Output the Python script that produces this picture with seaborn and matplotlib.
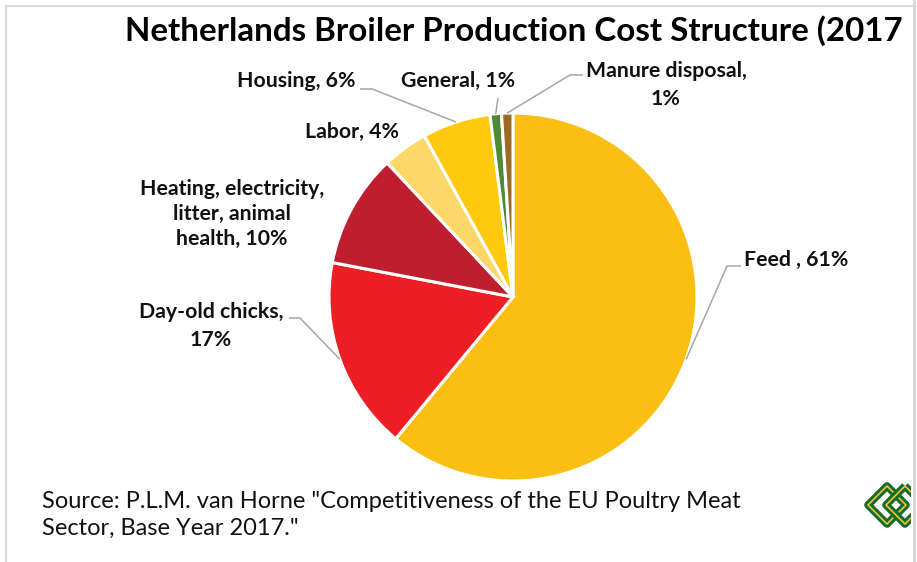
import numpy as np
import matplotlib
matplotlib.use("Agg")
import matplotlib.pyplot as plt
import seaborn as sns
from matplotlib.lines import Line2D
from matplotlib.patches import Polygon

# chart data
categories = ["Feed", "Day-old chicks", "Heating, electricity, litter, animal health",
              "Labor", "Housing", "General", "Manure disposal"]
shares = [61, 17, 10, 4, 6, 1, 1]
labels = ["Feed , 61%", "Day-old chicks,\n17%", "Heating, electricity,\nlitter, animal\nhealth, 10%",
          "Labor, 4%", "Housing, 6%", "General, 1%", "Manure disposal,\n1%"]
colors = ["#FBBF14", "#ED1F24", "#BE1E2D", "#FDD767", "#FFC90D", "#4F8A36", "#9C6A25"]
# the title runs off the chart area in the original, only this part shows
title = "Netherlands Broiler Production Cost Structure (2017"
source = "Source: P.L.M. van Horne \"Competitiveness of the EU Poultry Meat\nSector, Base Year 2017.\""

sns.set_theme(style="white")
plt.rcParams["font.family"] = ["Lato", "DejaVu Sans"]

W, H = 917, 562
fig = plt.figure(figsize=(W / 100, H / 100), dpi=100)
clip_w = 911
ax = fig.add_axes([0, 0, clip_w / W, 1])


def ty(y):
    # pixel y from top -> data y
    return H - y


cx, cy, r = 513, ty(297), 184
wedges, _ = ax.pie(shares, colors=colors, startangle=90, counterclock=False,
                   center=(cx, cy), radius=r,
                   wedgeprops=dict(edgecolor="white", linewidth=2.2))
ax.set_xlim(0, clip_w)
ax.set_ylim(0, H)
ax.set_aspect("auto")
ax.axis("off")

# label layout: (x, y from top, ha, leader elbow points or None)
layout = {
    "Feed": (744, 260, "left", [(741, 266), (727, 266)]),
    "Day-old chicks": (211, 326, "center", [(289, 318), (300, 318)]),
    "Heating, electricity, litter, animal health": (232, 214, "center", None),
    "Labor": (352, 132, "center", None),
    "Housing": (296, 81, "center", [(360, 89), (372, 89)]),
    "General": (458, 81, "center", [(498, 98)]),
    "Manure disposal": (666, 85, "center", [(583, 75), (570, 75)]),
}

for w, cat, lab in zip(wedges, categories, labels):
    x, y, ha, elbow = layout[cat]
    ls = 1.3 if lab.count("\n") > 1 else 1.45
    ax.text(x, ty(y), lab, ha=ha, va="center", fontsize=15.3, fontweight="bold",
            color="#111111", linespacing=ls, multialignment="center")
    if elbow:
        mid = np.deg2rad((w.theta1 + w.theta2) / 2)
        ax_pt = (cx + r * np.cos(mid), cy + r * np.sin(mid))
        xs = [p[0] for p in elbow] + [ax_pt[0]]
        ys = [ty(p[1]) for p in elbow] + [ax_pt[1]]
        ax.plot(xs, ys, color="#A6A6A6", lw=1.1, solid_capstyle="butt")

ax.text(125, ty(31), title, ha="left", va="center", fontsize=23.9, fontweight="bold",
        color="black")
ax.text(42, ty(515), source, ha="left", va="center", fontsize=17, color="#111111",
        linespacing=1.3)

# small knot logo at bottom right
for ox in (887, 905):
    d = 19
    pts = [(ox, ty(505 - d)), (ox + d, ty(505)), (ox, ty(505 + d)), (ox - d, ty(505))]
    ax.add_patch(Polygon(pts, closed=True, fill=False, ec="#146B2E", lw=5.5,
                         joinstyle="round", clip_on=True))
    ax.add_patch(Polygon(pts, closed=True, fill=False, ec="#F2C531", lw=1.2,
                         joinstyle="round", clip_on=True))

# chart area frame
fc = "#DADADA"
fig.add_artist(Line2D([6 / W, 6 / W], [0, 1 - 6 / H], color=fc, lw=1.6))
fig.add_artist(Line2D([6 / W, 1], [1 - 6 / H, 1 - 6 / H], color=fc, lw=1.6))
fig.add_artist(Line2D([914 / W, 914 / W], [0, 1], color=fc, lw=2.2))

fig.savefig("out.png", dpi=100, facecolor="white")
